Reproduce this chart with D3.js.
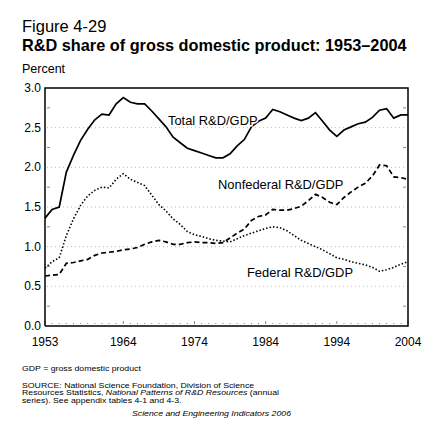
<!DOCTYPE html>
<html>
<head>
<meta charset="utf-8">
<script src="https://cdn.jsdelivr.net/npm/d3@7"></script>
<style>
  body { margin: 0; background: #fff; }
  svg { font-family: "Liberation Sans", Arial, sans-serif; }
</style>
</head>
<body>
<svg id="chart" width="440" height="425"></svg>
<script>
// years 1953..2004
var years = d3.range(1953, 2005);

var totalRD = [1.36, 1.47, 1.50, 1.94, 2.15, 2.34, 2.48, 2.60, 2.67, 2.66,
               2.80, 2.88, 2.82, 2.80, 2.80, 2.71, 2.61, 2.51, 2.38, 2.31,
               2.24, 2.21, 2.18, 2.15, 2.12, 2.12, 2.17, 2.27, 2.35, 2.51,
               2.58, 2.62, 2.73, 2.70, 2.66, 2.62, 2.59, 2.62, 2.69, 2.58,
               2.47, 2.39, 2.47, 2.51, 2.55, 2.57, 2.63, 2.72, 2.74, 2.62,
               2.66, 2.66];

var nonfederalRD = [0.63, 0.64, 0.65, 0.79, 0.80, 0.82, 0.84, 0.89, 0.92, 0.93,
                    0.94, 0.96, 0.97, 0.99, 1.03, 1.06, 1.08, 1.06, 1.03, 1.03,
                    1.05, 1.06, 1.05, 1.05, 1.04, 1.05, 1.11, 1.17, 1.22, 1.33,
                    1.38, 1.40, 1.47, 1.46, 1.46, 1.48, 1.51, 1.58, 1.66, 1.62,
                    1.56, 1.53, 1.62, 1.69, 1.75, 1.80, 1.89, 2.03, 2.02, 1.88,
                    1.87, 1.85];

var federalRD = [0.73, 0.81, 0.86, 1.14, 1.35, 1.52, 1.64, 1.71, 1.75, 1.74,
                 1.85, 1.92, 1.85, 1.81, 1.77, 1.65, 1.53, 1.45, 1.35, 1.28,
                 1.19, 1.15, 1.13, 1.10, 1.08, 1.07, 1.06, 1.10, 1.14, 1.17,
                 1.20, 1.23, 1.25, 1.24, 1.20, 1.14, 1.08, 1.04, 1.00, 0.96,
                 0.91, 0.86, 0.84, 0.81, 0.79, 0.77, 0.74, 0.69, 0.71, 0.74,
                 0.78, 0.81];

var yearTicks = [1953, 1964, 1974, 1984, 1994, 2004];
var valueTicks = [0, 0.5, 1, 1.5, 2, 2.5, 3];
var gridValues = [0.5, 1, 1.5, 2, 2.5];

var svg = d3.select("#chart");

var x = d3.scaleLinear().domain([1953, 2004]).range([45, 408]);
var y = d3.scaleLinear().domain([0, 3]).range([326, 88]);

// titles
svg.append("text").attr("x", 22).attr("y", 32)
  .attr("font-size", 16.5).text("Figure 4-29");
svg.append("text").attr("x", 22).attr("y", 51)
  .attr("font-size", 16.3).attr("font-weight", "bold")
  .text("R&D share of gross domestic product: 1953\u20132004");
svg.append("text").attr("x", 22).attr("y", 73)
  .attr("font-size", 12.5).text("Percent");

// gridlines
svg.selectAll(".grid")
  .data(gridValues)
  .enter()
    .append("line")
      .attr("class", "grid")
      .attr("x1", 47).attr("x2", 406)
      .attr("y1", function(d) { return y(d); })
      .attr("y2", function(d) { return y(d); })
      .attr("stroke", "#bbb")
      .attr("stroke-width", 1)
      .attr("stroke-dasharray", "1,3");

// minor ticks on left and right
var quarter = d3.range(0.25, 3, 0.5);
svg.selectAll(".minor-l")
  .data(quarter)
  .enter()
    .append("line")
      .attr("x1", x(1953) + 2).attr("x2", x(1953) + 5)
      .attr("y1", function(d) { return y(d); })
      .attr("y2", function(d) { return y(d); })
      .attr("stroke", "#888");
svg.selectAll(".minor-r")
  .data(quarter)
  .enter()
    .append("line")
      .attr("x1", x(2004) - 5).attr("x2", x(2004) - 2)
      .attr("y1", function(d) { return y(d); })
      .attr("y2", function(d) { return y(d); })
      .attr("stroke", "#888");

// year ticks along bottom
svg.selectAll(".ytick")
  .data(years)
  .enter()
    .append("line")
      .attr("x1", function(d) { return x(d); })
      .attr("x2", function(d) { return x(d); })
      .attr("y1", function(d) { return yearTicks.indexOf(d) >= 0 ? y(0) - 5 : y(0) - 3; })
      .attr("y2", y(0) - 2)
      .attr("stroke", "#888");

// y tick labels
svg.selectAll(".vlabel")
  .data(valueTicks)
  .enter()
    .append("text")
      .attr("x", 41)
      .attr("y", function(d) { return y(d) + 4; })
      .attr("text-anchor", "end")
      .attr("font-size", 12)
      .text(function(d) { return d3.format(".1f")(d); });

// x tick labels
svg.selectAll(".xlabel")
  .data(yearTicks)
  .enter()
    .append("text")
      .attr("x", function(d) { return x(d); })
      .attr("y", 346)
      .attr("text-anchor", "middle")
      .attr("font-size", 12)
      .text(function(d) { return d; });

// frame
svg.append("path")
  .attr("d", "M" + x(1953) + "," + y(0) + "V" + y(3) + "H" + x(2004) + "V" + y(0) + "H" + x(1953))
  .attr("fill", "none")
  .attr("stroke", "#000")
  .attr("stroke-width", 1.5);

// series
var line = d3.line()
  .x(function(d, i) { return x(years[i]); })
  .y(function(d) { return y(d); });

svg.append("path")
  .datum(federalRD)
  .attr("d", line)
  .attr("fill", "none")
  .attr("stroke", "#000")
  .attr("stroke-width", 1.6)
  .attr("stroke-dasharray", "1.5,2");

svg.append("path")
  .datum(nonfederalRD)
  .attr("d", line)
  .attr("fill", "none")
  .attr("stroke", "#000")
  .attr("stroke-width", 1.7)
  .attr("stroke-dasharray", "5,3");

svg.append("path")
  .datum(totalRD)
  .attr("d", line)
  .attr("fill", "none")
  .attr("stroke", "#000")
  .attr("stroke-width", 1.7);

// series labels
var seriesLabels = [
  {text: "Total R&D/GDP", x: 168, y: 125},
  {text: "Nonfederal R&D/GDP", x: 218, y: 189},
  {text: "Federal R&D/GDP", x: 247, y: 277}
];
svg.selectAll(".series-label")
  .data(seriesLabels)
  .enter()
    .append("text")
      .attr("x", function(d) { return d.x; })
      .attr("y", function(d) { return d.y; })
      .attr("font-size", 12.9)
      .attr("stroke", "#fff")
      .attr("stroke-width", 3)
      .attr("paint-order", "stroke")
      .text(function(d) { return d.text; });

// notes: small font stretched a little wider
var noteSize = 7.6, stretch = 1.15;
var notes = svg.append("g").attr("transform", "translate(22,0) scale(" + stretch + ",1)");

notes.append("text").attr("x", 0).attr("y", 371)
  .attr("font-size", noteSize).text("GDP = gross domestic product");
notes.append("text").attr("x", 0).attr("y", 388).attr("font-size", noteSize)
  .text("SOURCE: National Science Foundation, Division of Science");
var l2 = notes.append("text").attr("x", 0).attr("y", 395.5).attr("font-size", noteSize);
l2.append("tspan").text("Resources Statistics, ");
l2.append("tspan").attr("font-style", "italic").text("National Patterns of R&D Resources");
l2.append("tspan").text(" (annual");
notes.append("text").attr("x", 0).attr("y", 403).attr("font-size", noteSize)
  .text("series). See appendix tables 4-1 and 4-3.");

svg.append("g").attr("transform", "translate(291,0) scale(" + stretch + ",1)")
  .append("text").attr("x", 0).attr("y", 416)
  .attr("text-anchor", "end")
  .attr("font-size", noteSize).attr("font-style", "italic")
  .text("Science and Engineering Indicators 2006");
</script>
</body>
</html>
